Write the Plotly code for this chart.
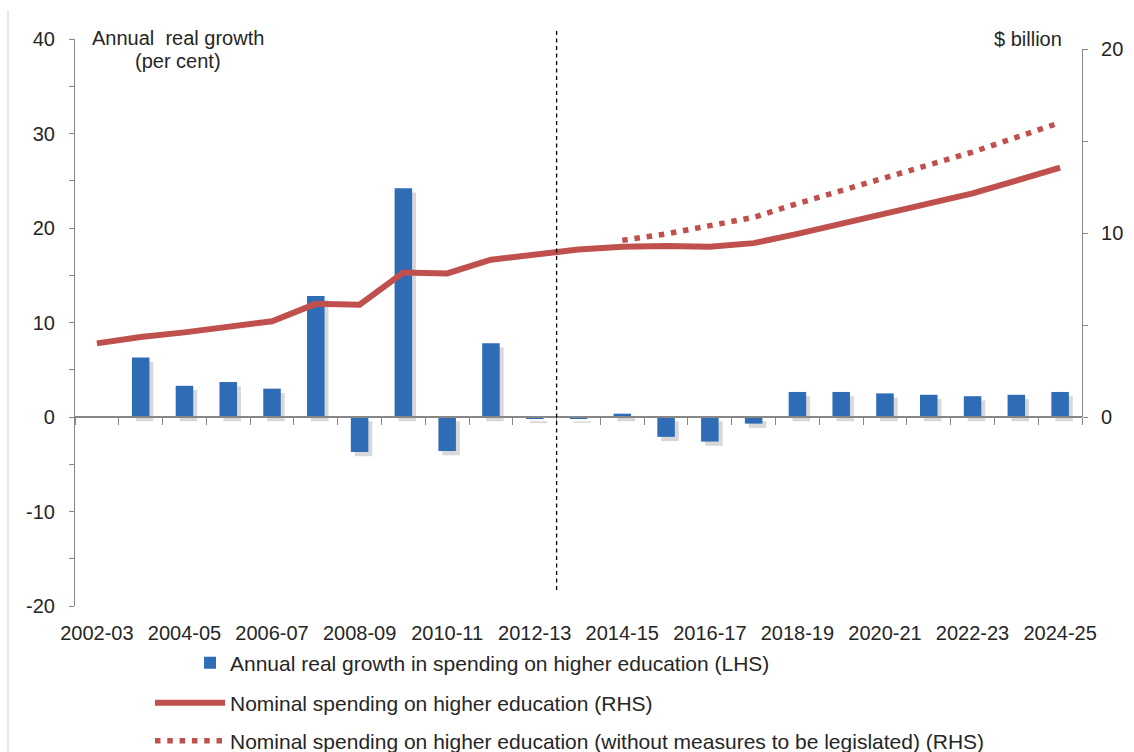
import plotly.graph_objects as go

# Financial years on the category axis
years = [
    "2002-03", "2003-04", "2004-05", "2005-06", "2006-07", "2007-08",
    "2008-09", "2009-10", "2010-11", "2011-12", "2012-13", "2013-14",
    "2014-15", "2015-16", "2016-17", "2017-18", "2018-19", "2019-20",
    "2020-21", "2021-22", "2022-23", "2023-24", "2024-25",
]
year_labels = years[::2]

# Annual real growth in spending on higher education, per cent (LHS)
growth = [None, 6.3, 3.3, 3.7, 3.0, 12.8, -3.7, 24.2, -3.6, 7.8, -0.2, -0.15,
          0.35, -2.1, -2.6, -0.7, 2.65, 2.65, 2.5, 2.35, 2.2, 2.35, 2.65]

# Nominal spending on higher education, $ billion (RHS)
nominal = [4.0, 4.35, 4.6, 4.9, 5.2, 6.15, 6.1, 7.85, 7.8, 8.55, 8.8, 9.1,
           9.25, 9.3, 9.25, 9.45, 9.95, 10.5, 11.1, 11.65, 12.15, 12.85, 13.55]

# Nominal spending without measures to be legislated, $ billion (RHS)
without_measures = [None] * 12 + [9.6, 9.95, 10.4, 10.85, 11.6, 12.3, 12.95,
                                  13.7, 14.4, 15.2, 16.0]

left_ticks = [-20, -10, 0, 10, 20, 30, 40]
left_tick_text = ["-20", "-10", "0", "10", "20", "30", "40"]
right_ticks = [0, 10, 20]

BLUE = "#2E6CB6"
RED = "#C0504D"
AXIS = "#878787"
TEXT = "#262626"
FONT = "Liberation Sans, Arial, sans-serif"

n = len(years)
forecast_split = years.index("2012-13") + 0.5  # dashed divider after 2012-13

fig = go.Figure()

# soft drop shadow behind each bar
fig.add_trace(go.Bar(
    x=years, y=growth, base=-0.45, width=0.4, offset=-0.11,
    marker=dict(color="rgba(60,60,60,0.2)", line_width=0),
    showlegend=False, hoverinfo="skip",
))
# bars sit on the category axis that runs along the zero line
fig.add_trace(go.Bar(
    x=years, y=growth, xaxis="x2", width=0.4, offset=-0.2,
    marker=dict(color=BLUE, line_width=0),
    name="Annual real growth in spending on higher education (LHS)",
    legend="legend",
))
fig.add_trace(go.Scatter(
    x=years, y=nominal, yaxis="y2", mode="lines",
    line=dict(color=RED, width=6),
    name="Nominal spending on higher education (RHS)",
    legend="legend2",
))
fig.add_trace(go.Scatter(
    x=years, y=without_measures, yaxis="y2", mode="lines",
    line=dict(color=RED, width=5.5, dash="5.5px,6.8px"),
    name="Nominal spending on higher education (without measures to be legislated) (RHS)",
    legend="legend3",
))

legend_common = dict(
    xanchor="left", yanchor="middle", orientation="v",
    font=dict(family=FONT, size=21, color=TEXT),
    bgcolor="rgba(0,0,0,0)", borderwidth=0,
)

fig.update_layout(
    width=1134, height=752,
    margin=dict(l=75, r=52, t=39, b=146, autoexpand=False),
    paper_bgcolor="white", plot_bgcolor="rgba(0,0,0,0)",
    font=dict(family=FONT, size=20, color=TEXT),
    barmode="overlay",
    xaxis=dict(
        type="category", categoryorder="array", categoryarray=years,
        range=[-0.5, n - 0.5],
        tickmode="array", tickvals=year_labels, ticktext=year_labels,
        ticks="", showline=False, showgrid=False, zeroline=False,
        ticklabelstandoff=13,
        tickfont=dict(size=20, color=TEXT),
    ),
    # category axis along the zero line, ticked at category boundaries
    xaxis2=dict(
        type="category", categoryorder="array", categoryarray=years,
        overlaying="x", anchor="free", position=1 / 3,
        range=[-0.5, n - 0.5], tickson="boundaries", dtick=1,
        ticks="outside", ticklen=7, tickcolor=AXIS, tickwidth=1.3,
        showline=True, linecolor=AXIS, linewidth=1.5,
        showticklabels=False, showgrid=False, zeroline=False,
    ),
    yaxis=dict(
        range=[-20, 40], tickmode="array", tickvals=left_ticks,
        ticktext=left_tick_text,
        ticks="outside", ticklen=5, tickcolor=AXIS, tickwidth=1.2,
        minor=dict(dtick=5, ticks="outside", ticklen=5, tickcolor=AXIS, tickwidth=1.2),
        showline=True, linecolor=AXIS, linewidth=1.2,
        showgrid=False, zeroline=False, ticklabelstandoff=10,
        tickfont=dict(size=20, color=TEXT),
    ),
    yaxis2=dict(
        domain=[1 / 3, (606 - 49) / 567], range=[0, 20],
        anchor="x", side="right",
        tickmode="array", tickvals=right_ticks,
        ticks="outside", ticklen=5, tickcolor=AXIS, tickwidth=1.2,
        minor=dict(dtick=5, ticks="outside", ticklen=5, tickcolor=AXIS, tickwidth=1.2),
        showline=True, linecolor=AXIS, linewidth=1.2,
        showgrid=False, zeroline=False, ticklabelstandoff=9,
        tickfont=dict(size=20, color=TEXT),
    ),
    legend=dict(x=(190 - 75) / 1007, y=(606 - 663) / 567, **legend_common),
    legend2=dict(x=(150 - 75) / 1007, y=(606 - 703) / 567, itemwidth=70, **legend_common),
    legend3=dict(x=(150 - 75) / 1007, y=(606 - 741) / 567, itemwidth=70, **legend_common),
    shapes=[
        dict(type="line", xref="paper", yref="paper",
             x0=(forecast_split + 0.5) / n, x1=(forecast_split + 0.5) / n,
             y0=(606 - 590) / 567, y1=(606 - 28) / 567,
             line=dict(color="black", width=1.3, dash="4px,3.5px")),
        dict(type="line", xref="paper", yref="paper",
             x0=(8 - 75) / 1007, x1=(8 - 75) / 1007,
             y0=(606 - 10) / 567, y1=(606 - 752) / 567,
             line=dict(color="#D0D0D0", width=1)),
    ],
    annotations=[
        dict(text="Annual  real growth", xref="paper", yref="paper",
             x=(178 - 75) / 1007, y=(606 - 38) / 567,
             xanchor="center", yanchor="middle", showarrow=False,
             font=dict(size=20, color=TEXT)),
        dict(text="(per cent)", xref="paper", yref="paper",
             x=(178 - 75) / 1007, y=(606 - 61) / 567,
             xanchor="center", yanchor="middle", showarrow=False,
             font=dict(size=20, color=TEXT)),
        dict(text="$ billion", xref="paper", yref="paper",
             x=(1064 - 75) / 1007, y=(606 - 39) / 567,
             xanchor="right", yanchor="middle", showarrow=False,
             font=dict(size=20, color=TEXT)),
    ],
)

fig.write_html("out.html")
